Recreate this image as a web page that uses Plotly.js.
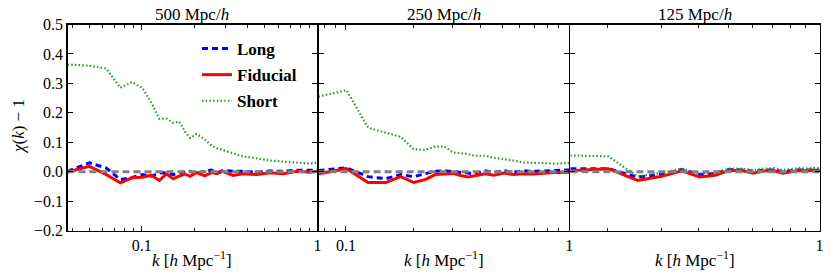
<!DOCTYPE html>
<html>
<head>
<meta charset="utf-8">
<script src="https://cdn.plot.ly/plotly-3.0.1.min.js"></script>
<style>html,body{margin:0;padding:0;background:#fff;} #chart{width:831px;height:278px;}</style>
</head>
<body>
<div id="chart"></div>
<script>
// ---------- Data ----------
const panelTitles = ["500 Mpc/<i>h</i>", "250 Mpc/<i>h</i>", "125 Mpc/<i>h</i>"];
const seriesNames = ["Long", "Fiducial", "Short"];

// Panel 1: 500 Mpc/h
const k1 = [0.0377, 0.0503, 0.0628, 0.0754, 0.0880, 0.1005, 0.1131, 0.1257, 0.1382, 0.1508, 0.1634, 0.1760, 0.1885, 0.205, 0.228, 0.250, 0.267, 0.289, 0.330, 0.376, 0.453, 0.537, 0.638, 0.768, 0.912, 1.0];
const long1 = [0.001, 0.030, 0.012, -0.027, -0.020, -0.010, -0.015, -0.005, -0.004, -0.010, -0.003, -0.002, 0.001, -0.007, 0.002, 0.005, -0.005, 0.004, 0.001, 0.001, -0.002, 0.002, 0.001, 0.005, 0.004, 0.005];
const fid1 = [-0.001, 0.018, -0.010, -0.038, -0.021, -0.019, -0.012, -0.030, -0.008, -0.024, -0.015, -0.008, -0.016, -0.003, -0.014, -0.003, -0.007, 0.001, -0.013, -0.007, -0.010, -0.004, -0.007, 0.001, -0.002, 0.001];
const short1 = [0.364, 0.360, 0.350, 0.285, 0.304, 0.285, 0.235, 0.180, 0.180, 0.166, 0.170, 0.136, 0.114, 0.128, 0.110, 0.088, 0.080, 0.073, 0.063, 0.052, 0.045, 0.038, 0.034, 0.030, 0.027, 0.031];

// Panel 2: 250 Mpc/h
const k2 = [0.0754, 0.1005, 0.1257, 0.1508, 0.1759, 0.2011, 0.2262, 0.2513, 0.2765, 0.3016, 0.3267, 0.3519, 0.377, 0.42, 0.46, 0.51, 0.56, 0.62, 0.69, 0.77, 0.86, 0.95, 1.0];
const long2 = [0.004, 0.013, -0.017, -0.024, -0.010, -0.017, -0.007, 0.001, 0.003, 0.001, -0.002, -0.005, -0.007, 0.003, -0.002, 0.003, -0.002, 0.003, 0.001, 0.002, 0.004, 0.005, 0.006];
const fid2 = [-0.007, 0.010, -0.037, -0.037, -0.017, -0.037, -0.027, -0.010, -0.008, -0.006, -0.013, -0.018, -0.014, -0.007, -0.012, -0.005, -0.010, -0.007, -0.008, -0.005, -0.003, -0.003, -0.002];
const short2 = [0.255, 0.277, 0.149, 0.132, 0.118, 0.076, 0.074, 0.085, 0.085, 0.065, 0.063, 0.060, 0.054, 0.054, 0.047, 0.043, 0.038, 0.031, 0.031, 0.029, 0.027, 0.027, 0.029];

// Panel 3: 125 Mpc/h
const k3 = [0.1508, 0.2011, 0.2513, 0.3016, 0.3519, 0.4021, 0.4524, 0.5027, 0.553, 0.6032, 0.6535, 0.7037, 0.754, 0.8042, 0.8545, 0.9048, 0.955, 1.0];
const long3 = [0.010, 0.010, -0.019, -0.008, 0.007, -0.010, -0.006, 0.007, 0.006, 0.001, 0.005, 0.006, 0.000, 0.004, 0.006, 0.006, 0.007, 0.006];
const fid3 = [0.003, 0.010, -0.030, -0.016, 0.003, -0.018, -0.012, 0.004, 0.004, -0.005, 0.002, 0.004, -0.005, 0.000, 0.004, 0.003, 0.005, 0.004];
const short3 = [0.055, 0.052, -0.016, -0.004, 0.010, -0.006, -0.003, 0.010, 0.010, 0.005, 0.010, 0.012, 0.006, 0.009, 0.012, 0.011, 0.013, 0.012];

const refLevel = [0, 0];
const xTickVals = [0.1, 1];
const xTickText = ["0.1", "1"];
const xMinorVals = [0.04, 0.05, 0.06, 0.07, 0.08, 0.09, 0.2, 0.3, 0.4, 0.5, 0.6, 0.7, 0.8, 0.9];
const yTickVals = [-0.2, -0.1, 0.0, 0.1, 0.2, 0.3, 0.4, 0.5];

// ---------- Build ----------
const W = 831, H = 278;
const serif = "Liberation Serif";
const colors = {Long: "#0000ff", Fiducial: "#ff0000", Short: "#2a962a"};
const panels = [
  {k: k1, s: [long1, fid1, short1]},
  {k: k2, s: [long2, fid2, short2]},
  {k: k3, s: [long3, fid3, short3]}
];
const LW = 1.2;
const xDom = [[67.5, 317.4], [318.6, 569.2], [570.4, 819.6]];
const yDom = [1 - 230.5 / H, 1 - 24.5 / H];

const traces = [];
panels.forEach((p, i) => {
  const ax = i === 0 ? "" : String(i + 1);
  const styles = [
    {color: colors.Long, width: 3, dash: "6px,4px"},
    {color: colors.Fiducial, width: 3, dash: "solid"},
    {color: colors.Short, width: 2.2, dash: "1.5px,2.2px"}
  ];
  p.s.forEach((ys, j) => {
    traces.push({
      x: p.k, y: ys, type: "scatter", mode: "lines",
      name: seriesNames[j], legendgroup: seriesNames[j],
      showlegend: i === 0,
      line: styles[j],
      xaxis: "x" + ax, yaxis: "y" + ax, hoverinfo: "skip"
    });
  });
  traces.push({
    x: [p.k[0], p.k[p.k.length - 1]], y: refLevel, type: "scatter", mode: "lines",
    showlegend: false, line: {color: "#808080", width: 3, dash: "7px,4px"},
    xaxis: "x" + ax, yaxis: "y" + ax, hoverinfo: "skip"
  });
});

const layout = {
  width: W, height: H,
  margin: {l: 0, r: 0, t: 0, b: 0},
  paper_bgcolor: "#fff", plot_bgcolor: "#fff",
  font: {family: serif, size: 15, color: "#000"},
  showlegend: true,
  legend: {
    x: 197 / W, y: 1 - 31 / H, xanchor: "left", yanchor: "top",
    bgcolor: "rgba(0,0,0,0)", borderwidth: 0,
    font: {family: serif, size: 17, color: "#000", weight: "bold"},
    traceorder: "grouped", tracegroupgap: 1, itemwidth: 30
  },
  annotations: [],
  shapes: []
};

panels.forEach((p, i) => {
  const ax = i === 0 ? "" : String(i + 1);
  const xr = [Math.log10(p.k[0]), Math.log10(p.k[p.k.length - 1])];
  layout["xaxis" + ax] = {
    type: "log", range: xr, domain: [xDom[i][0] / W, xDom[i][1] / W],
    anchor: "y" + ax, automargin: false,
    tickmode: "array", tickvals: xTickVals, ticktext: xTickText,
    ticks: "inside", ticklen: 5, tickwidth: 1, tickcolor: "#000",
    minor: {tickmode: "array", tickvals: xMinorVals, ticks: "inside", ticklen: 3, tickwidth: 1, tickcolor: "#000", showgrid: false},
    showline: true, linecolor: "#000", linewidth: LW, mirror: "allticks",
    showgrid: false, zeroline: false,
    tickfont: {family: serif, size: 16, color: "#000"}
  };
  layout["yaxis" + ax] = {
    range: [-0.2, 0.5], domain: yDom, anchor: "x" + ax, automargin: false,
    tickmode: "array", tickvals: yTickVals, tickformat: ".1f",
    showticklabels: i === 0,
    ticks: "inside", ticklen: 5, tickwidth: 1, tickcolor: "#000",
    showline: true, linecolor: "#000", linewidth: LW, mirror: "allticks",
    showgrid: false, zeroline: false,
    tickfont: {family: serif, size: 16, color: "#000"}
  };
  layout.annotations.push({
    text: panelTitles[i], xref: "x" + ax + " domain", x: 0.5, yref: "paper", y: 1 - 14 / H,
    xanchor: "center", yanchor: "middle", showarrow: false,
    font: {family: serif, size: 17, color: "#000"}
  });
  layout.annotations.push({
    text: "<i>k</i> [<i>h</i> Mpc<sup>−1</sup>]", xref: "x" + ax + " domain", x: 0.5, yref: "paper", y: 1 - 259 / H,
    xanchor: "center", yanchor: "middle", showarrow: false,
    font: {family: serif, size: 17, color: "#000"}
  });
});

layout.annotations.push({
  text: "<i>χ</i>(<i>k</i>) − 1", xref: "paper", x: 18 / W, yref: "paper", y: 1 - 127 / H,
  xanchor: "center", yanchor: "middle", showarrow: false, textangle: -90,
  font: {family: serif, size: 17, color: "#000"}
});

Plotly.newPlot("chart", traces, layout, {staticPlot: true, displayModeBar: false});
</script>
</body>
</html>
